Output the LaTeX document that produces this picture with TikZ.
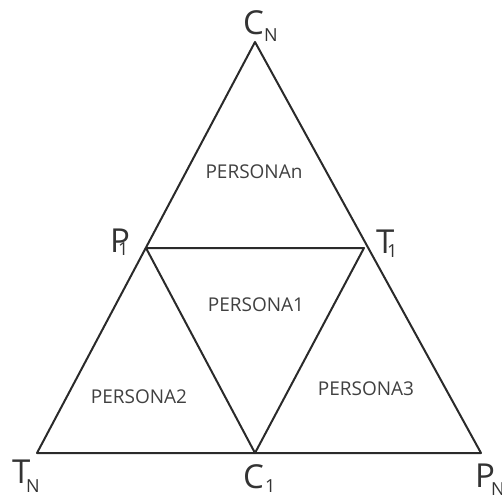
\documentclass[tikz,border=0pt]{standalone}
\usepackage{fontspec}
\setmainfont{Open Sans}
\definecolor{edgecol}{HTML}{2A2A2A}
\definecolor{txtcol}{HTML}{404040}
\definecolor{labcol}{HTML}{333333}
\begin{document}
\begin{tikzpicture}[x=1pt,y=-1pt,
  edge/.style={draw=edgecol,line width=2pt,line join=round},
  persona/.style={text=txtcol,font=\fontsize{19}{19}\selectfont,inner sep=0},
  biglet/.style={text=labcol,font=\fontsize{33}{33}\selectfont,inner sep=0,anchor=base west},
  sublet/.style={text=labcol,font=\fontsize{18}{18}\selectfont,inner sep=0,anchor=base west}]
\useasboundingbox (0,0) rectangle (502,494);
\coordinate (top) at (255,42);
\coordinate (bl) at (37,453);
\coordinate (br) at (481,453);
\coordinate (p1) at (146,248);
\coordinate (t1) at (364,248);
\coordinate (c1) at (255,453);
\draw[edge] (top) -- (bl) -- (br) -- cycle;
\draw[edge] (p1) -- (t1) -- (c1) -- cycle;
\node[persona] (pn) at (254,172) {PERSONAn};
\node[persona] (pa1) at (256,305) {PERSONA1};
\node[persona] (pa2) at (139,397) {PERSONA2};
\node[persona] (pa3) at (366,389) {PERSONA3};
% vertex labels
\node[biglet] (cnl) at (243,35) {C};
\node[sublet] (cns) at (264,42) {N};
\node[biglet] (p1l) at (110,252) {P};
\node[sublet] (p1s) at (118,255) {1};
\node[biglet] (t1l) at (376,253) {T};
\node[sublet] (t1s) at (387,257) {1};
\node[biglet] (tnl) at (12,483) {T};
\node[sublet] (tns) at (26,492) {N};
\node[biglet] (c1l) at (243,488) {C};
\node[sublet] (c1s) at (265,492) {1};
\node[biglet] (pnl) at (475,487) {P};
\node[sublet] (pns) at (491,495) {N};
\end{tikzpicture}
\end{document}
